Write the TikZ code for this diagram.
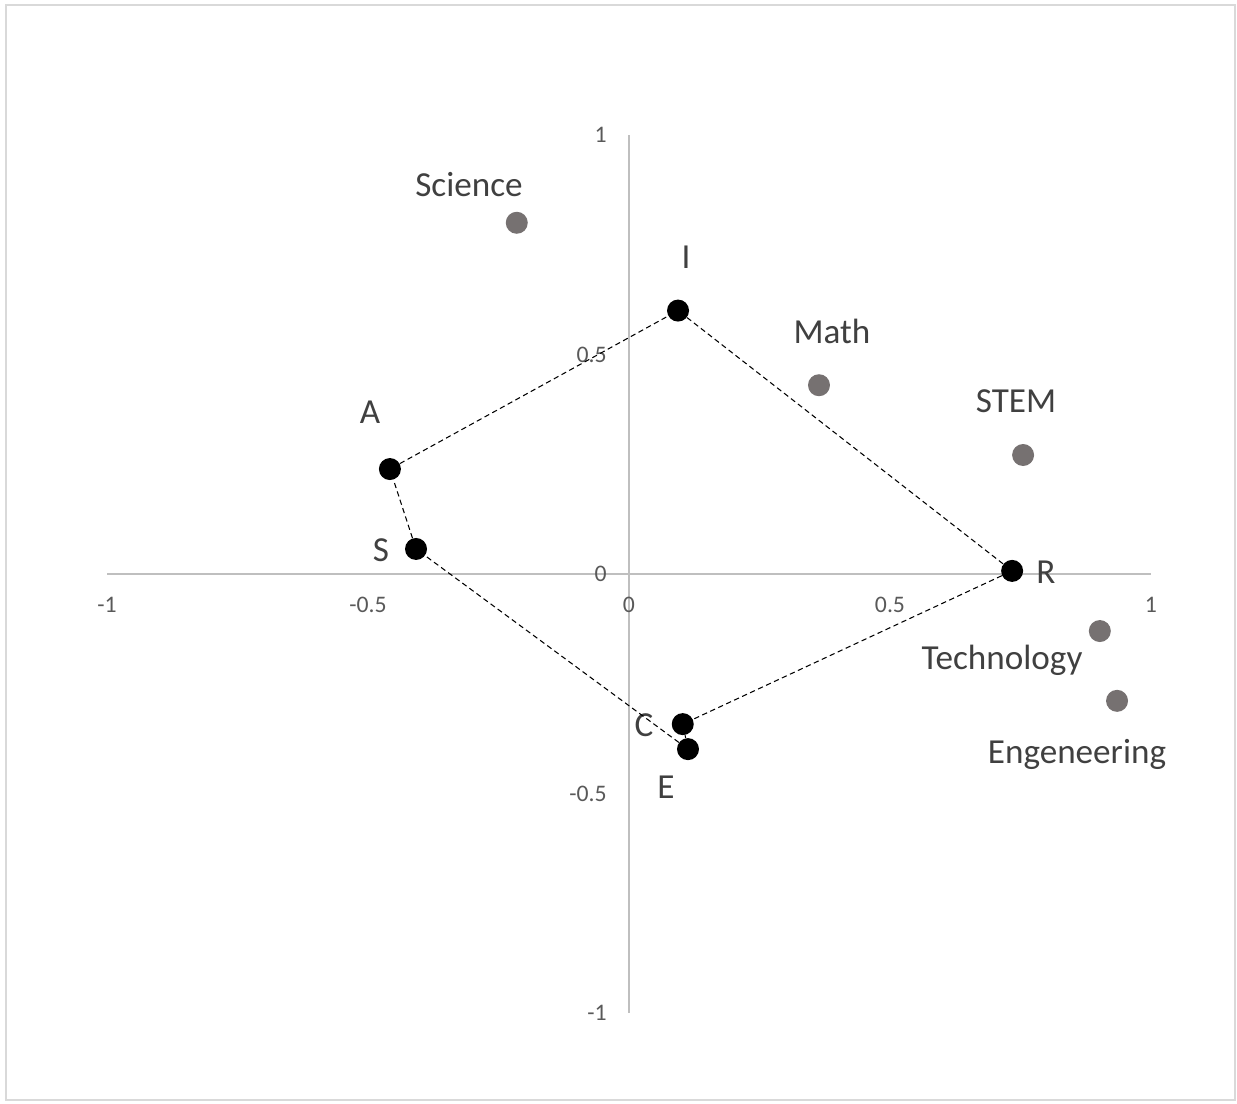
\documentclass[tikz,border=0pt]{standalone}
\usepackage{fontspec}
\setmainfont{Carlito}
\definecolor{axisgray}{HTML}{BFBFBF}
\definecolor{ticktext}{HTML}{595959}
\definecolor{labeltext}{HTML}{404040}
\definecolor{groupgray}{HTML}{767171}
\definecolor{framegray}{HTML}{D9D9D9}

\tikzstyle{student} = [
    circle,
    minimum size=0.44cm,
    inner sep=0pt,
    fill=black,
]
\tikzstyle{subject} = [
    circle,
    minimum size=0.44cm,
    inner sep=0pt,
    fill=groupgray,
]
\tikzstyle{textstyle} = [
    text=labeltext,
    inner sep=0pt,
    font=\fontsize{20}{24}\selectfont,
]
\tikzstyle{ticklabel} = [
    text=ticktext,
    inner sep=0pt,
    font=\fontsize{13.5}{16}\selectfont,
]
\tikzstyle{axis} = [
    axisgray,
    line width=0.8pt,
]
\tikzstyle{link} = [
    dashed,
    dash pattern=on 3pt off 2pt,
    line width=0.6pt,
]

\begin{document}
\begin{tikzpicture}[x=10.44cm, y=8.78cm]
        \useasboundingbox (-1.205,-1.2073) rectangle (1.1648,1.3075);
        \draw [framegray, line width=1.2pt] (-1.1935,-1.1982) rectangle (1.1609,1.2961);
        %% axes
        \coordinate (xmin) at (-1,0);
        \coordinate (xmax) at (1,0);
        \coordinate (ymin) at (0,-1);
        \coordinate (ymax) at (0,1);
        \draw [axis] (xmin) -- (xmax);
        \draw [axis] (ymin) -- (ymax);
        \foreach \v/\t in {-1/-1, -0.5/-0.5, 0/0, 0.5/0.5, 1/1} {
            \node (xt\t) [ticklabel] at (\v,-0.0706) {\t};
            \node (yt\t) [ticklabel, anchor=east] at (-0.042,\v) {\t};
        }
        %% subjects
        \node (science) [subject] at (-0.215,0.80) {};
        \node (math) [subject] at (0.364,0.43) {};
        \node (stem) [subject] at (0.755,0.271) {};
        \node (technology) [subject] at (0.902,-0.130) {};
        \node (engineering) [subject] at (0.935,-0.289) {};
        \node (lscience) [textstyle] at (-0.3065,0.888) {Science};
        \node (lmath) [textstyle] at (0.3889,0.5535) {Math};
        \node (lstem) [textstyle] at (0.7414,0.394) {STEM};
        \node (ltechnology) [textstyle] at (0.7146,-0.1958) {Technology};
        \node (lengineering) [textstyle] at (0.8582,-0.410) {Engeneering};
        %% profile
        \node (i) [student] at (0.094,0.600) {};
        \node (a) [student] at (-0.458,0.239) {};
        \node (s) [student] at (-0.408,0.057) {};
        \node (c) [student] at (0.103,-0.342) {};
        \node (e) [student] at (0.113,-0.399) {};
        \node (r) [student] at (0.734,0.007) {};
        \node (li) [textstyle] at (0.1092,0.7221) {I};
        \node (la) [textstyle] at (-0.4962,0.369) {A};
        \node (ls) [textstyle] at (-0.4751,0.0547) {S};
        \node (lc) [textstyle] at (0.0287,-0.344) {C};
        \node (le) [textstyle] at (0.0709,-0.4852) {E};
        \node (lr) [textstyle] at (0.7989,0.0046) {R};
        \draw [link] (a) -- (i);
        \draw [link] (i) -- (r);
        \draw [link] (r) -- (c);
        \draw [link] (c) -- (e);
        \draw [link] (e) -- (s);
        \draw [link] (s) -- (a);
    \end{tikzpicture}
\end{document}
